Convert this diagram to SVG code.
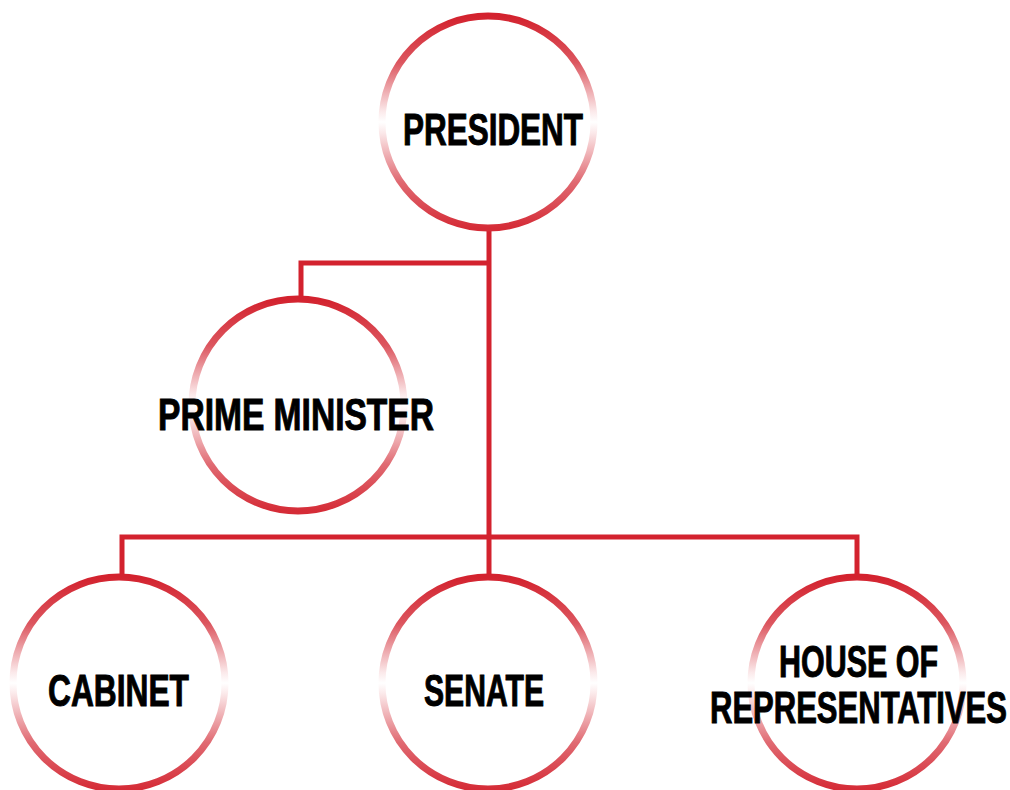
<svg xmlns="http://www.w3.org/2000/svg" width="1010" height="790" viewBox="0 0 1010 790">
<defs>
<linearGradient id="ring" x1="0" y1="0" x2="0" y2="1">
<stop offset="0" stop-color="#d3222e"/>
<stop offset="0.22" stop-color="#dc565f"/>
<stop offset="0.45" stop-color="#fbe9ea"/>
<stop offset="0.5" stop-color="#ffffff"/>
<stop offset="0.55" stop-color="#fbe9ea"/>
<stop offset="0.78" stop-color="#e06a72"/>
<stop offset="1" stop-color="#d52c37"/>
</linearGradient>
</defs>
<style>
.ring{fill:#ffffff;stroke:url(#ring);stroke-width:7}
.conn{fill:none;stroke:#d3222e;stroke-width:5}
.lbl{font-family:"Liberation Sans",Arial,sans-serif;font-weight:bold;font-size:45px;fill:#000000;stroke:#000000;stroke-width:1;text-anchor:start}
</style>
<rect width="1010" height="790" fill="#ffffff"/>
<g id="connectors">
<path class="conn" d="M489 228 V537"/>
<path class="conn" d="M489 263 H301 V298"/>
<path class="conn" d="M122 577 V537 H857 V577"/>
<path class="conn" d="M489 537 V577"/>
</g>
<g id="president">
<circle class="ring" cx="488" cy="122" r="106"/>
<text class="lbl" x="403" y="145" textLength="180" lengthAdjust="spacingAndGlyphs">PRESIDENT</text>
</g>
<g id="prime-minister">
<circle class="ring" cx="298" cy="405" r="106"/>
<text class="lbl" x="158" y="430" textLength="276" lengthAdjust="spacingAndGlyphs">PRIME MINISTER</text>
</g>
<g id="cabinet">
<circle class="ring" cx="119" cy="683" r="106"/>
<text class="lbl" x="48" y="706" textLength="141" lengthAdjust="spacingAndGlyphs">CABINET</text>
</g>
<g id="senate">
<circle class="ring" cx="488" cy="683" r="106"/>
<text class="lbl" x="424" y="706" textLength="120" lengthAdjust="spacingAndGlyphs">SENATE</text>
</g>
<g id="house">
<circle class="ring" cx="857" cy="683" r="106"/>
<text class="lbl" x="779" y="677" textLength="159" lengthAdjust="spacingAndGlyphs">HOUSE OF</text>
<text class="lbl" x="710" y="723" textLength="297" lengthAdjust="spacingAndGlyphs">REPRESENTATIVES</text>
</g>
</svg>
